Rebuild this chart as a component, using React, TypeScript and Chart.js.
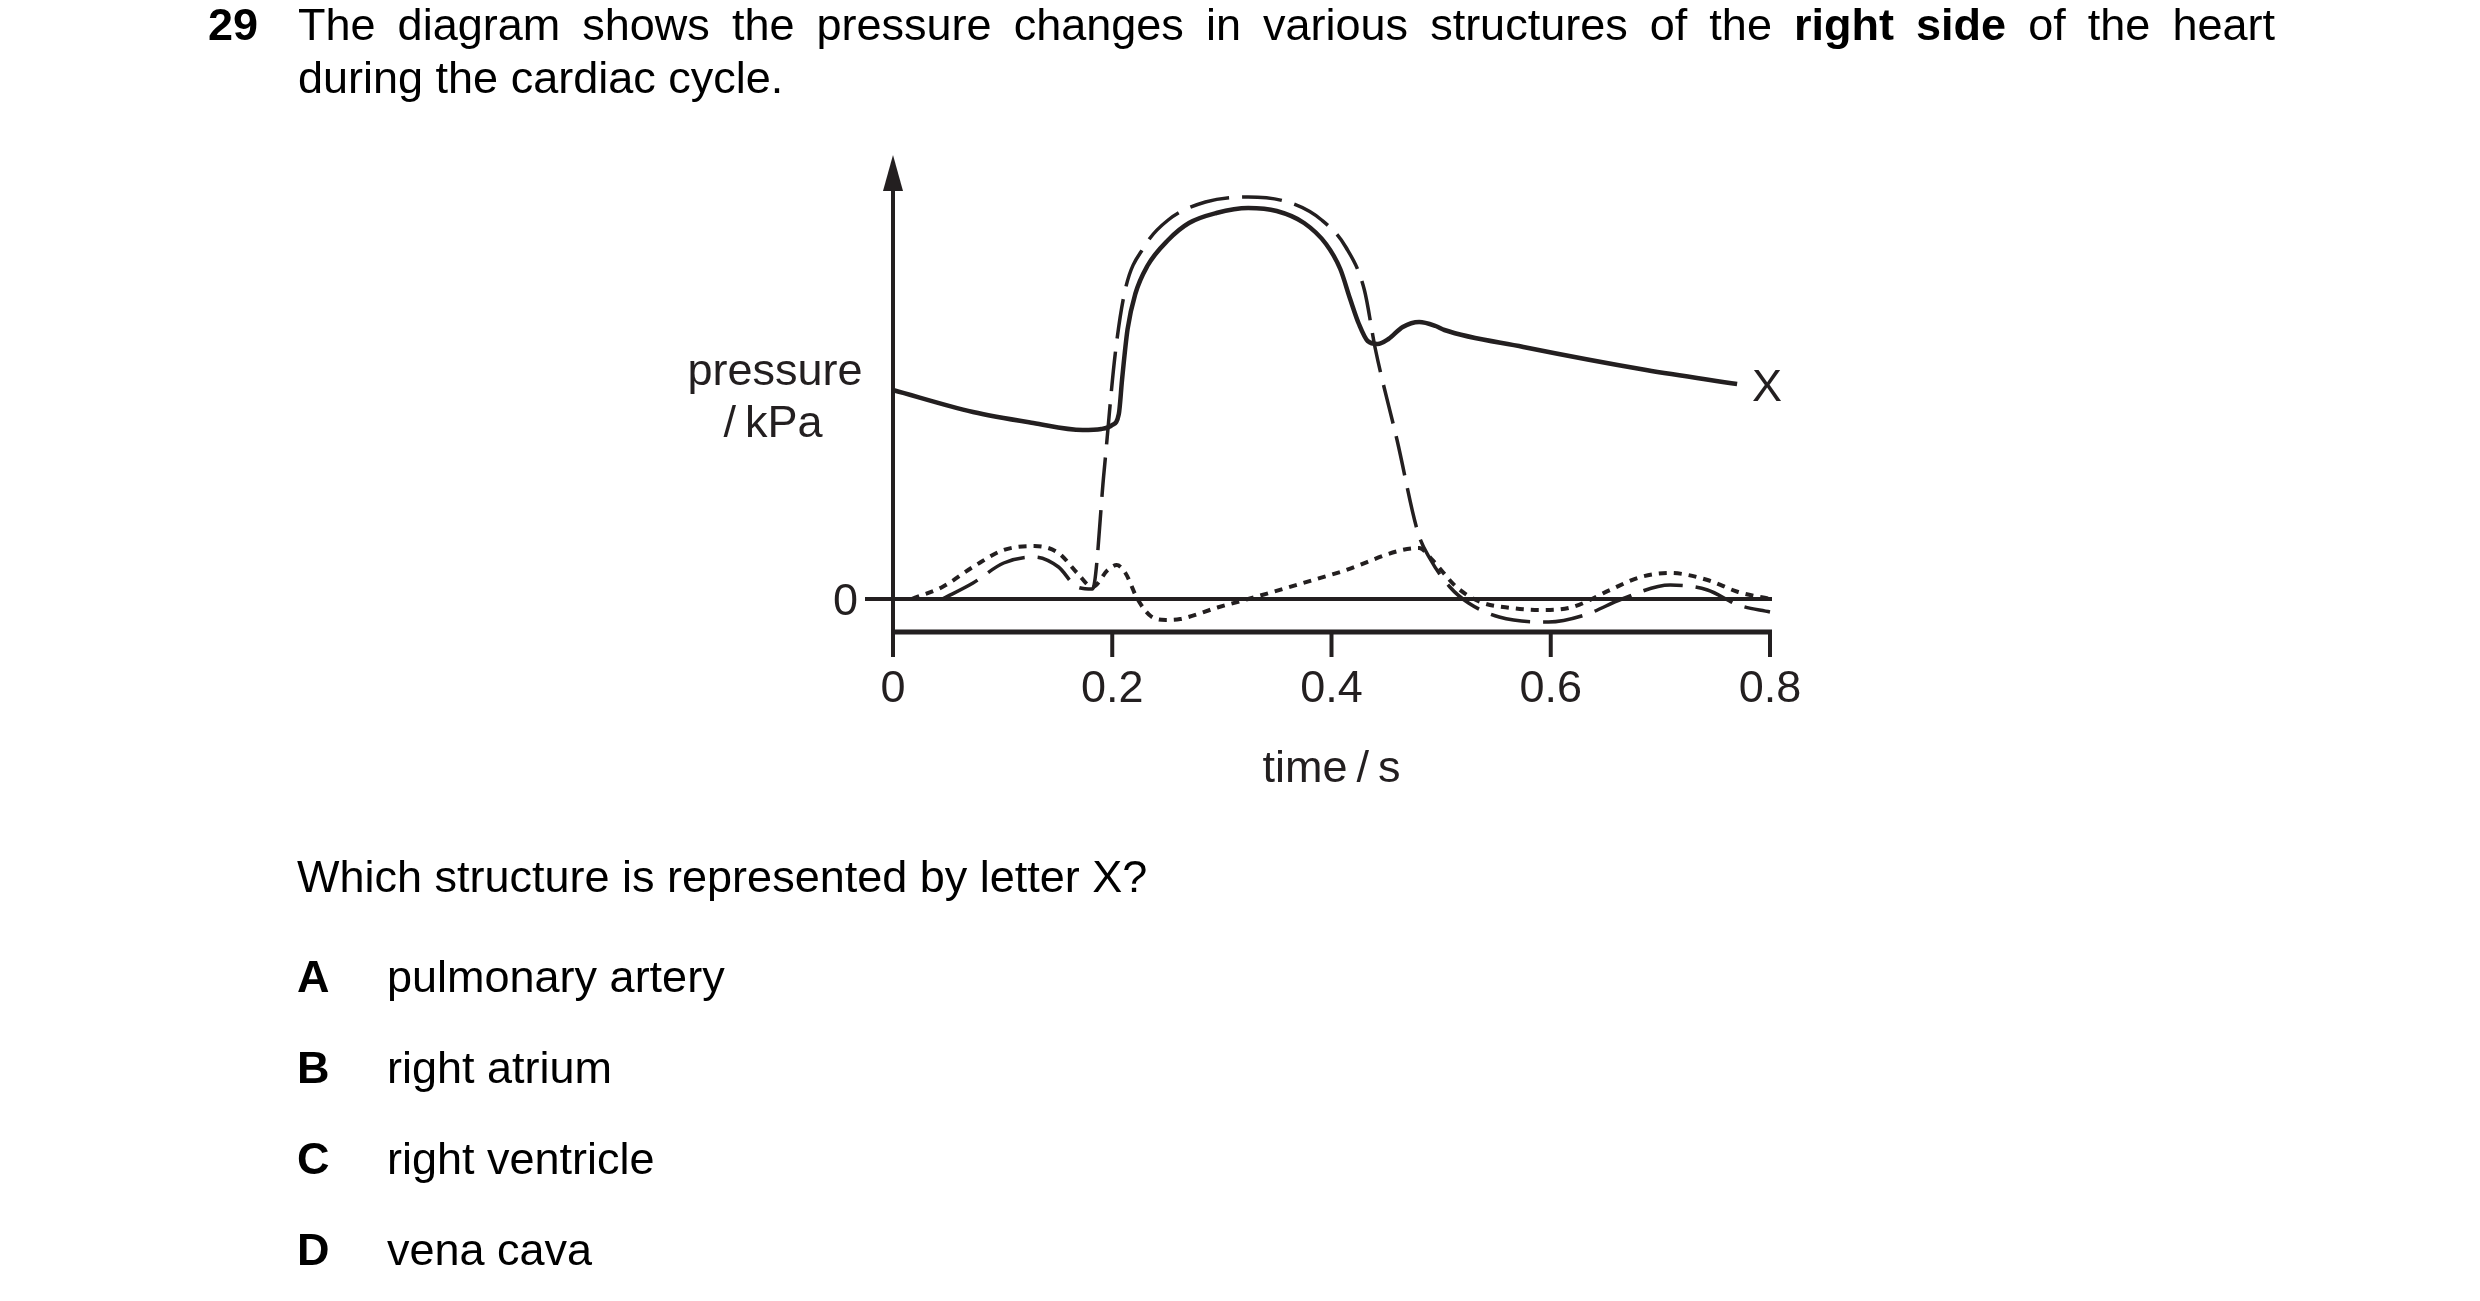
import { useEffect, useRef } from 'react'
import { Chart, registerables } from 'chart.js'

Chart.register(...registerables)

// pulmonary artery (solid, labelled X)
const timeX = [0, 0.073, 0.128, 0.173, 0.19, 0.2, 0.206, 0.209, 0.214, 0.221, 0.232, 0.251, 0.27, 0.295, 0.324, 0.35, 0.375, 0.395, 0.408, 0.417, 0.425, 0.433, 0.442, 0.452, 0.465, 0.48, 0.495, 0.503, 0.575, 0.687, 0.77]
const pressureX = [2.09, 1.87, 1.76, 1.69, 1.70, 1.74, 1.85, 2.2, 2.7, 3.05, 3.33, 3.59, 3.76, 3.86, 3.91, 3.88, 3.76, 3.55, 3.3, 3.0, 2.75, 2.58, 2.55, 2.6, 2.72, 2.77, 2.73, 2.69, 2.52, 2.29, 2.15]

// right ventricle (long dashes)
const timeV = [0.045, 0.073, 0.101, 0.129, 0.151, 0.168, 0.182, 0.1925, 0.2027, 0.212, 0.229, 0.251, 0.285, 0.324, 0.363, 0.391, 0.413, 0.43, 0.44, 0.46, 0.479, 0.49, 0.508, 0.525, 0.553, 0.598, 0.631, 0.665, 0.709, 0.743, 0.771, 0.8]
const pressureV = [0, 0.16, 0.36, 0.42, 0.32, 0.12, 0.1, 1.27, 2.45, 3.1, 3.52, 3.79, 3.97, 4.02, 3.96, 3.79, 3.52, 3.09, 2.5, 1.58, 0.66, 0.4, 0.12, -0.04, -0.18, -0.23, -0.16, 0, 0.14, 0.09, -0.06, -0.13]

// right atrium (dotted)
const timeA = [0.017, 0.045, 0.073, 0.101, 0.129, 0.151, 0.168, 0.182, 0.196, 0.204, 0.212, 0.223, 0.235, 0.249, 0.262, 0.296, 0.324, 0.408, 0.48, 0.492, 0.514, 0.536, 0.564, 0.592, 0.62, 0.654, 0.682, 0.709, 0.743, 0.771, 0.8]
const pressureA = [0, 0.12, 0.32, 0.49, 0.53, 0.46, 0.26, 0.12, 0.29, 0.34, 0.26, 0, -0.17, -0.21, -0.2, -0.085, 0, 0.27, 0.51, 0.39, 0.12, -0.03, -0.09, -0.11, -0.08, 0.09, 0.22, 0.26, 0.19, 0.07, 0]

const xTicks = [0, 0.2, 0.4, 0.6, 0.8]
const xTickLabels = ['0', '0.2', '0.4', '0.6', '0.8']
const yTicks = [0]
const yTickLabels = ['0']

const Y_MIN = -0.33
const Y_MAX = 4.44
const INK = '#231f20'
const FONT = "'Liberation Sans', Arial, sans-serif"

const toPoints = (xs: number[], ys: number[]) => xs.map((t, i) => ({ x: t, y: ys[i] }))

const axesPlugin = {
  id: 'examAxes',
  beforeDatasetsDraw(chart: any) {
    const { ctx, scales: { x, y } } = chart
    const x0 = x.getPixelForValue(0)
    const xEnd = x.getPixelForValue(0.8)
    const yBase = y.getPixelForValue(Y_MIN)
    const yTop = y.getPixelForValue(Y_MAX)
    ctx.save()
    ctx.strokeStyle = INK
    ctx.fillStyle = INK
    ctx.lineCap = 'butt'

    // y axis + arrow head
    ctx.lineWidth = 4
    ctx.beginPath(); ctx.moveTo(x0, yTop + 30); ctx.lineTo(x0, yBase + 25); ctx.stroke()
    ctx.beginPath(); ctx.moveTo(x0, yTop); ctx.lineTo(x0 - 10, yTop + 36); ctx.lineTo(x0 + 10, yTop + 36); ctx.closePath(); ctx.fill()

    // x axis
    ctx.lineWidth = 5
    ctx.beginPath(); ctx.moveTo(x0 - 2, yBase); ctx.lineTo(xEnd + 2, yBase); ctx.stroke()
    ctx.lineWidth = 4
    xTicks.forEach((v) => {
      const px = x.getPixelForValue(v)
      ctx.beginPath(); ctx.moveTo(px, yBase); ctx.lineTo(px, yBase + 25); ctx.stroke()
    })

    // zero line
    yTicks.forEach((v) => {
      const py = y.getPixelForValue(v)
      ctx.beginPath(); ctx.moveTo(x0 - 28, py); ctx.lineTo(xEnd + 2, py); ctx.stroke()
    })

    ctx.font = `45px ${FONT}`
    ctx.textBaseline = 'alphabetic'
    ctx.textAlign = 'center'
    xTicks.forEach((v, i) => ctx.fillText(xTickLabels[i], x.getPixelForValue(v), yBase + 70))
    ctx.fillText('time\u2009/\u2009s', x.getPixelForValue(0.4), yBase + 150)
    ctx.textAlign = 'right'
    yTicks.forEach((v, i) => ctx.fillText(yTickLabels[i], x0 - 35, y.getPixelForValue(v) + 16))

    ctx.textAlign = 'center'
    ctx.fillText('pressure', x0 - 118, yTop + 230)
    ctx.fillText('/\u2009kPa', x0 - 120, yTop + 282)
    ctx.restore()
  },
  afterDatasetsDraw(chart: any) {
    const { ctx, scales: { x, y } } = chart
    const last = timeX.length - 1
    ctx.save()
    ctx.fillStyle = INK
    ctx.font = `45px ${FONT}`
    ctx.textAlign = 'left'
    ctx.textBaseline = 'alphabetic'
    ctx.fillText('X', x.getPixelForValue(timeX[last]) + 15, y.getPixelForValue(pressureX[last]) + 17)
    ctx.restore()
  },
}

const textBase = { position: 'absolute' as const, fontFamily: FONT, fontSize: 45, lineHeight: '45px', color: '#000', whiteSpace: 'nowrap' as const }

const App = () => {
  const chartRef = useRef<HTMLCanvasElement>(null)
  const chartInstance = useRef<Chart | null>(null)

  useEffect(() => {
    if (!chartRef.current) return
    if (chartInstance.current) chartInstance.current.destroy()
    chartInstance.current = new Chart(chartRef.current, {
      type: 'line',
      data: {
        datasets: [
          { data: toPoints(timeX, pressureX), borderColor: INK, borderWidth: 4.5, cubicInterpolationMode: 'monotone', fill: false, pointRadius: 0, clip: false as any },
          { data: toPoints(timeV, pressureV), borderColor: INK, borderWidth: 3.5, borderDash: [40, 13], cubicInterpolationMode: 'monotone', fill: false, pointRadius: 0, clip: false as any },
          { data: toPoints(timeA, pressureA), borderColor: INK, borderWidth: 4, borderDash: [8, 7], cubicInterpolationMode: 'monotone', fill: false, pointRadius: 0, clip: false as any },
        ],
      },
      options: {
        animation: false,
        responsive: true,
        maintainAspectRatio: false,
        layout: { padding: { left: 893, right: 710, top: 155, bottom: 669 } },
        plugins: { legend: { display: false }, tooltip: { enabled: false } },
        scales: {
          x: { type: 'linear', min: 0, max: 0.8, display: false },
          y: { type: 'linear', min: Y_MIN, max: Y_MAX, display: false },
        },
      },
      plugins: [axesPlugin],
    })
    return () => { chartInstance.current?.destroy() }
  }, [])

  const options = [
    { letter: 'A', text: 'pulmonary artery', base: 992 },
    { letter: 'B', text: 'right atrium', base: 1083 },
    { letter: 'C', text: 'right ventricle', base: 1174 },
    { letter: 'D', text: 'vena cava', base: 1265 },
  ]

  return (
    <div style={{ position: 'absolute', left: 0, top: 0, width: 2480, height: 1301, background: '#fff', overflow: 'hidden' }}>
      <div style={{ position: 'absolute', left: 0, top: 0, width: 2480, height: 1301 }}>
        <canvas ref={chartRef} />
      </div>
      <div style={{ ...textBase, left: 208, top: 2, fontWeight: 700 }}>29</div>
      <div style={{ ...textBase, left: 298, top: 2, width: 1977, textAlign: 'justify', textAlignLast: 'justify', whiteSpace: 'normal' }}>
        The diagram shows the pressure changes in various structures of the <b>right side</b> of the heart
      </div>
      <div style={{ ...textBase, left: 298, top: 55 }}>during the cardiac cycle.</div>
      <div style={{ ...textBase, left: 297, top: 854 }}>Which structure is represented by letter X?</div>
      {options.map((o) => (
        <div key={o.letter}>
          <div style={{ ...textBase, left: 297, top: o.base - 38, fontWeight: 700 }}>{o.letter}</div>
          <div style={{ ...textBase, left: 387, top: o.base - 38 }}>{o.text}</div>
        </div>
      ))}
    </div>
  )
}

export default App
